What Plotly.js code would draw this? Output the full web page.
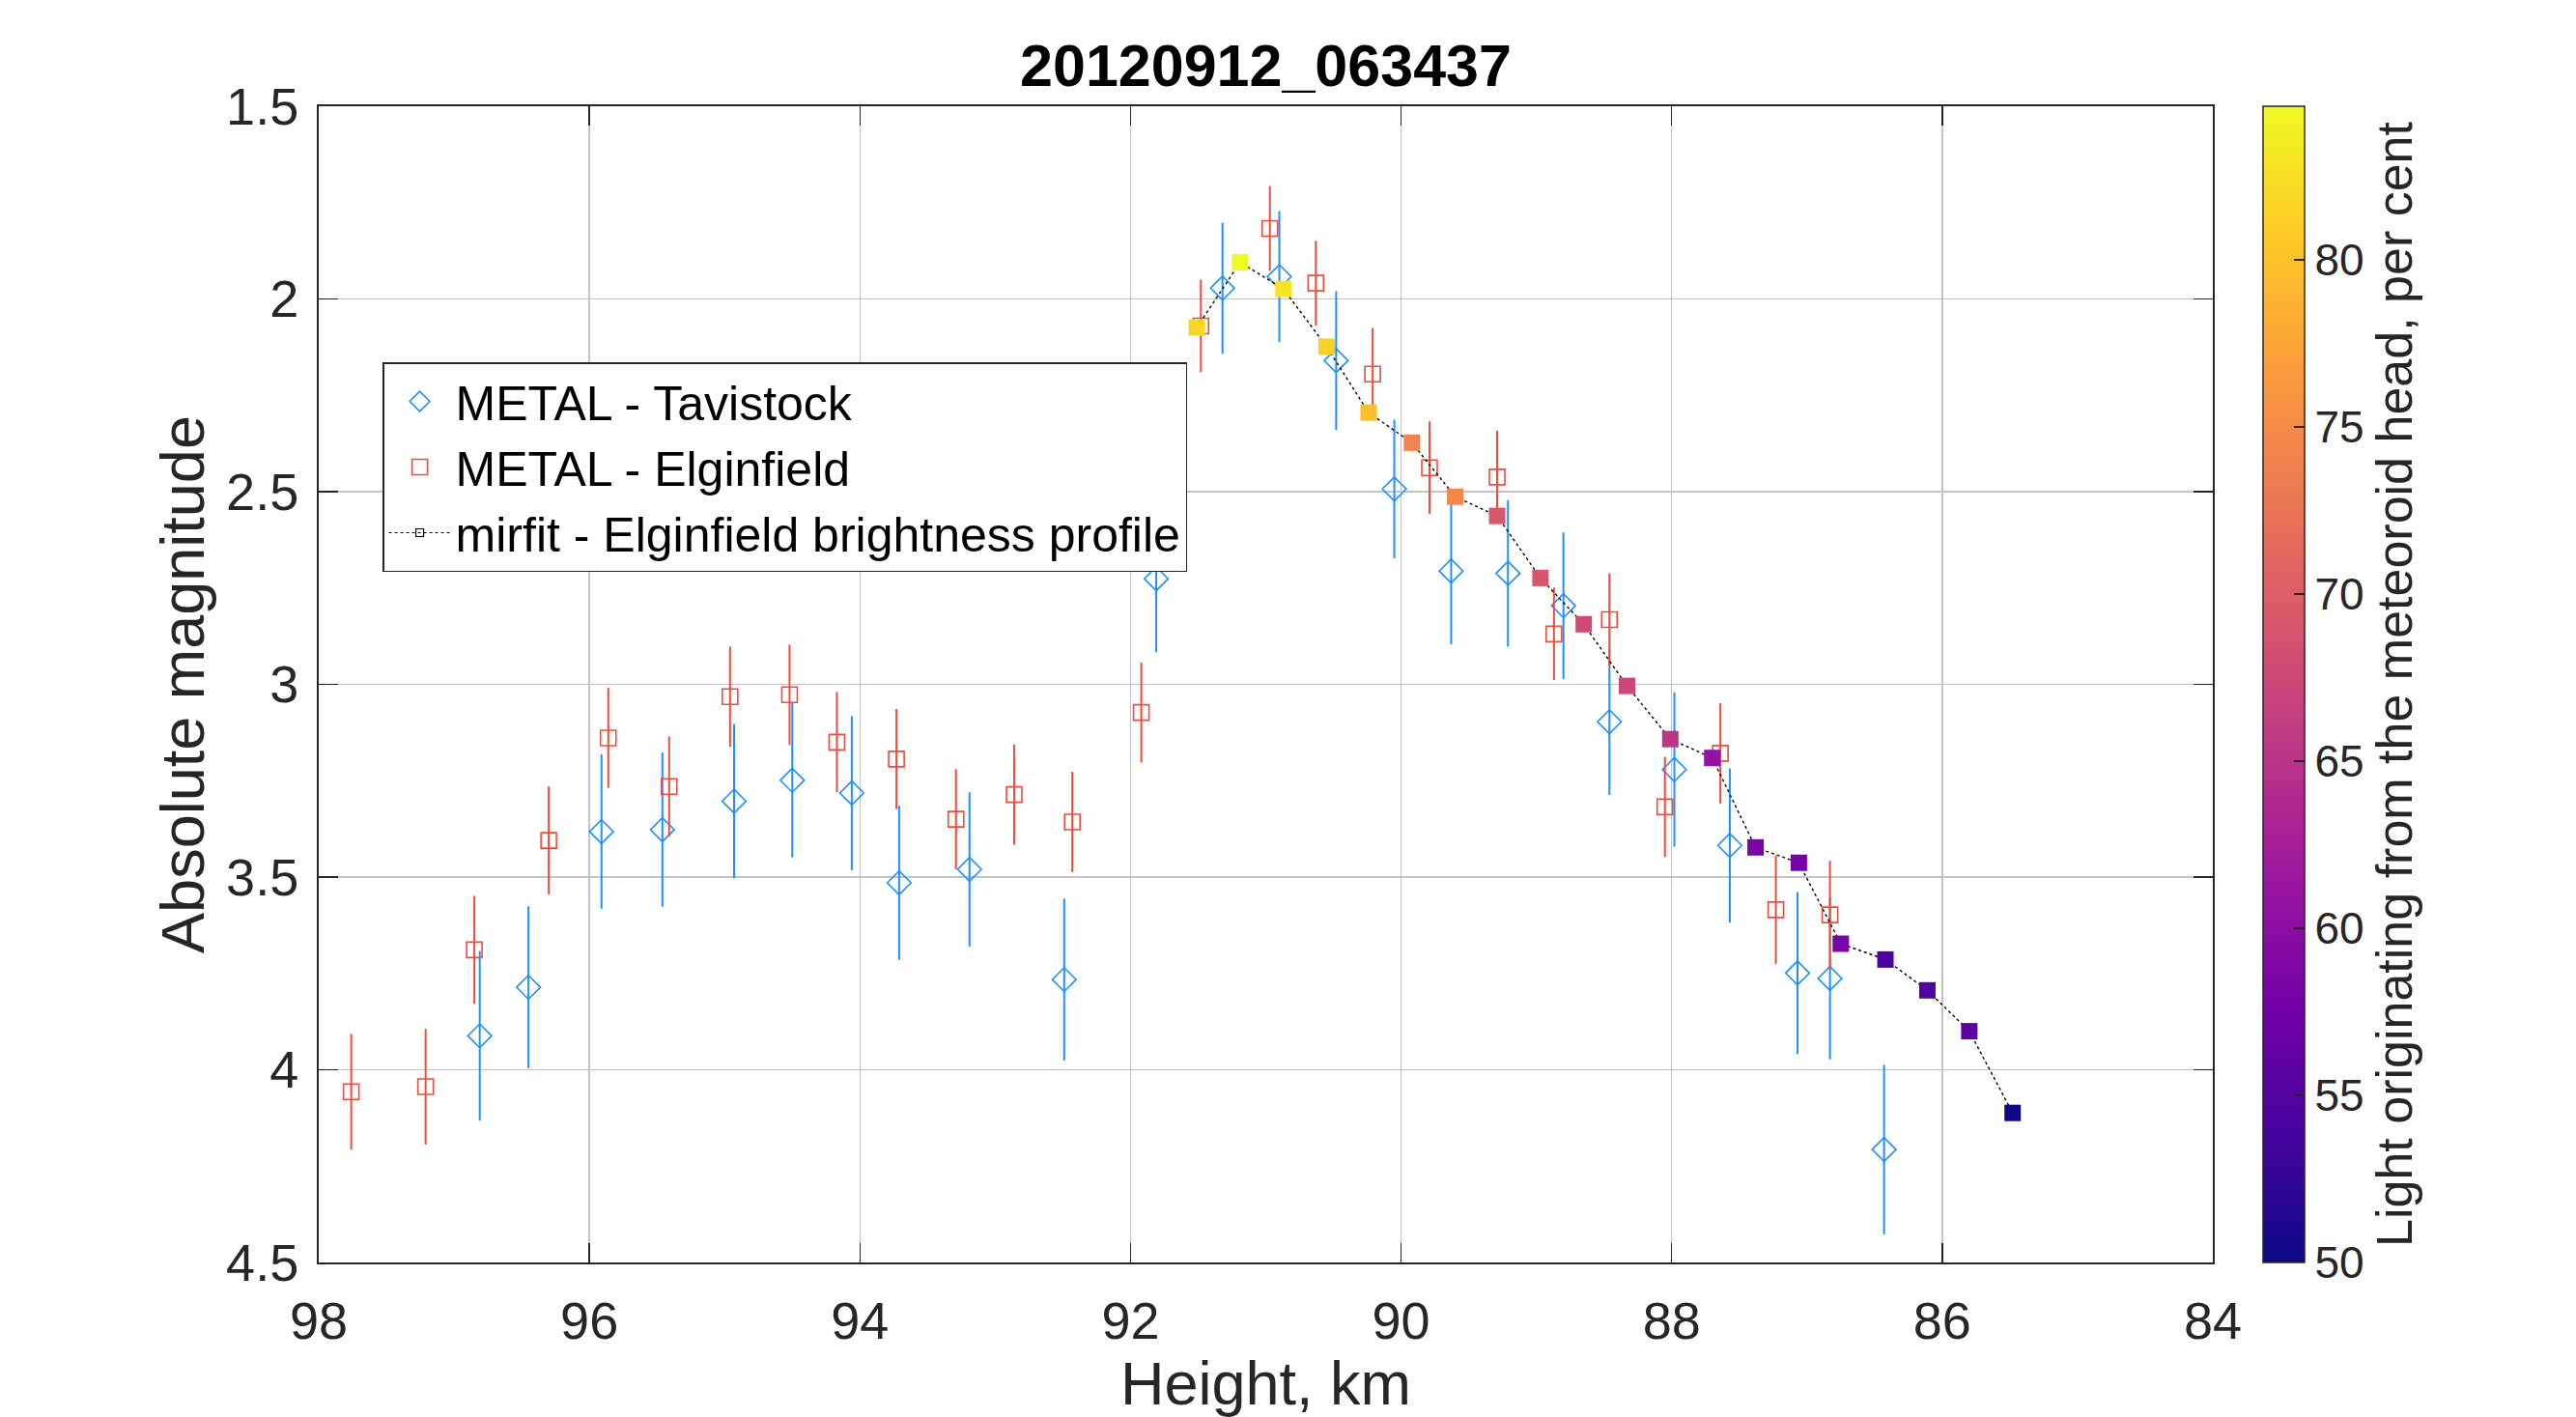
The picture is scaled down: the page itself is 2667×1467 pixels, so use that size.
<!DOCTYPE html>
<html>
<head>
<meta charset="utf-8">
<script src="https://cdn.plot.ly/plotly-3.0.1.min.js"></script>
<style>
  html, body { margin: 0; padding: 0; background: #fff; }
  #chart { width: 2667px; height: 1467px; }
</style>
</head>
<body>
<div id="chart"></div>
<script>
// METAL - Tavistock (height km, abs. magnitude, +/- error)
const tavHeight = [96.81, 96.45, 95.91, 95.46, 94.93, 94.50, 94.06, 93.71, 93.19, 92.49, 91.81, 91.32,
                   90.90, 90.48, 90.05, 89.63, 89.21, 88.80, 88.46, 87.98, 87.57, 87.07, 86.83, 86.43];
const tavMag = [3.912, 3.786, 3.382, 3.377, 3.303, 3.249, 3.282, 3.515, 3.480, 3.766, 2.726, 1.972,
                1.942, 2.160, 2.493, 2.706, 2.712, 2.796, 3.097, 3.221, 3.418, 3.749, 3.763, 4.207];
const tavErr = [0.22, 0.21, 0.20, 0.20, 0.20, 0.20, 0.20, 0.20, 0.20, 0.21, 0.19, 0.17,
                0.17, 0.18, 0.18, 0.19, 0.19, 0.19, 0.19, 0.20, 0.20, 0.21, 0.21, 0.22];

// METAL - Elginfield
const elgHeight = [97.76, 97.21, 96.85, 96.30, 95.86, 95.41, 94.96, 94.52, 94.17, 93.73, 93.29, 92.86, 92.43,
                   91.92, 91.48, 90.97, 90.63, 90.21, 89.79, 89.29, 88.87, 88.46, 88.05, 87.64, 87.23, 86.83];
const elgMag = [4.057, 4.044, 3.689, 3.405, 3.139, 3.265, 3.032, 3.027, 3.150, 3.194, 3.350, 3.286, 3.357,
                3.073, 2.070, 1.817, 1.959, 2.195, 2.438, 2.462, 2.869, 2.832, 3.318, 3.179, 3.585, 3.598];
const elgErr = [0.15, 0.15, 0.14, 0.14, 0.13, 0.13, 0.13, 0.13, 0.13, 0.13, 0.13, 0.13, 0.13,
                0.13, 0.12, 0.11, 0.11, 0.12, 0.12, 0.12, 0.12, 0.12, 0.13, 0.13, 0.14, 0.14];

// mirfit - Elginfield brightness profile, coloured by head light fraction (per cent)
const fitHeight = [91.51, 91.19, 90.87, 90.55, 90.24, 89.92, 89.60, 89.29, 88.97, 88.65,
                   88.33, 88.01, 87.70, 87.38, 87.06, 86.75, 86.42, 86.11, 85.80, 85.48];
const fitMag = [2.074, 1.905, 1.974, 2.124, 2.295, 2.373, 2.513, 2.563, 2.724, 2.844,
                3.004, 3.142, 3.191, 3.423, 3.463, 3.673, 3.714, 3.794, 3.900, 4.112];
const fitHeadPct = [81.7, 84.6, 82.9, 81.3, 79.8, 74.2, 74.6, 69.2, 69.0, 67.6,
                    67.4, 65.2, 60.7, 58.3, 58.0, 58.3, 54.5, 54.8, 55.9, 50.0];

const xTicks = [98, 96, 94, 92, 90, 88, 86, 84];
const yTicks = [1.5, 2, 2.5, 3, 3.5, 4, 4.5];
const yTickText = ['1.5', '2', '2.5', '3', '3.5', '4', '4.5'];
const cbTicks = [50, 55, 60, 65, 70, 75, 80];

// plasma colormap
const plasma = [
  [0.0, '#0d0887'], [0.1111, '#46039f'], [0.2222, '#7201a8'], [0.3333, '#9c179e'],
  [0.4444, '#bd3786'], [0.5556, '#d8576b'], [0.6667, '#ed7953'], [0.7778, '#fb9f3a'],
  [0.8889, '#fdca26'], [1.0, '#f0f921']
];

const FONT = '"Liberation Sans", Arial, Helvetica, sans-serif';
const INK = '#262626';
const BLUE = 'rgb(30,144,255)';
const RED = 'rgb(238,76,60)';

const traces = [
  {
    type: 'scatter', mode: 'markers', name: 'METAL - Tavistock',
    x: tavHeight, y: tavMag,
    error_y: { type: 'data', array: tavErr, visible: true, color: BLUE, thickness: 2, width: 0 },
    marker: { symbol: 'diamond-open', size: 19, color: BLUE, line: { width: 1.6, color: BLUE } }
  },
  {
    type: 'scatter', mode: 'markers', name: 'METAL - Elginfield',
    x: elgHeight, y: elgMag,
    error_y: { type: 'data', array: elgErr, visible: true, color: RED, thickness: 2, width: 0 },
    marker: { symbol: 'square-open', size: 16, color: RED, line: { width: 1.6, color: RED } }
  },
  {
    type: 'scatter', mode: 'lines+markers', showlegend: false,
    x: fitHeight, y: fitMag,
    line: { color: '#000', width: 1.4, dash: 'dot' },
    marker: {
      symbol: 'square', size: 17, color: fitHeadPct,
      colorscale: plasma, cmin: 50, cmax: 84.6, line: { width: 0 },
      showscale: true,
      colorbar: {
        x: 1.0265, xanchor: 'left', xpad: 0, y: 0.5, yanchor: 'middle', ypad: 0,
        len: 1, lenmode: 'fraction', thickness: 43, thicknessmode: 'pixels',
        outlinecolor: INK, outlinewidth: 1.5,
        tickvals: cbTicks, ticks: 'inside', ticklen: 11, tickcolor: INK, tickwidth: 1.5,
        tickprefix: '\u2002',
        tickfont: { family: FONT, size: 46, color: INK },
        title: { text: 'Light originating from the meteoroid head, per cent', side: 'right',
                 font: { family: FONT, size: 52, color: INK } }
      }
    }
  },
  {
    // legend entry only
    type: 'scatter', mode: 'lines+markers', name: 'mirfit - Elginfield brightness profile',
    x: [null], y: [null],
    line: { color: '#000', width: 1.2, dash: 'dot' },
    marker: { symbol: 'square-open', size: 8, color: '#000', line: { width: 1.2, color: '#000' } }
  }
];

const axisCommon = {
  showline: true, linecolor: INK, linewidth: 2, mirror: 'ticks',
  ticks: 'inside', ticklen: 20, tickwidth: 1.5, tickcolor: INK,
  showgrid: true, gridcolor: '#c4c4c4', gridwidth: 1.5,
  zeroline: false,
  tickfont: { family: FONT, size: 54, color: INK }
};

const layout = {
  width: 2667, height: 1467,
  paper_bgcolor: '#fff', plot_bgcolor: '#fff',
  margin: { l: 330, r: 376, t: 110, b: 160 },
  title: {
    text: '<b>20120912_063437</b>', x: 0.5, xref: 'paper', y: 0.954, yanchor: 'middle',
    font: { family: FONT, size: 61, color: '#000' }
  },
  xaxis: Object.assign({}, axisCommon, {
    range: [98, 84], tickvals: xTicks, ticklabelstandoff: 12,
    title: { text: 'Height, km', standoff: 22, font: { family: FONT, size: 63, color: INK } }
  }),
  yaxis: Object.assign({}, axisCommon, {
    range: [4.5, 1.5], tickvals: yTicks, ticktext: yTickText, ticklabelstandoff: 8,
    title: { text: 'Absolute magnitude', standoff: 2, font: { family: FONT, size: 63, color: INK } }
  }),
  legend: {
    x: 0.0337, y: 0.7786, xanchor: 'left', yanchor: 'top',
    bgcolor: '#fff', bordercolor: INK, borderwidth: 1.5,
    font: { family: FONT, size: 50, color: '#000' },
    itemsizing: 'trace', itemwidth: 64, tracegroupgap: 0
  },
  showlegend: true
};

Plotly.newPlot('chart', traces, layout, { staticPlot: true, displayModeBar: false });
</script>
</body>
</html>
